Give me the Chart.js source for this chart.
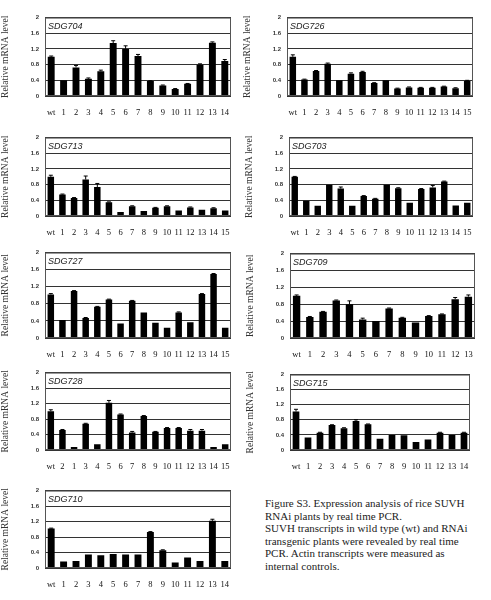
<!DOCTYPE html>
<html><head><meta charset="utf-8">
<script src="https://cdn.jsdelivr.net/npm/chart.js@4"></script>
<style>
body{margin:0;background:#fff;width:491px;height:600px;position:relative;font-family:"Liberation Serif",serif}
#cap{position:absolute;left:265px;top:497px;font-size:11px;line-height:12.5px;color:#222;width:210px}
</style></head><body>
<div id="cap">Figure S3. Expression analysis of rice SUVH RNAi plants by real time PCR.<br>SUVH transcripts in wild type (wt) and RNAi transgenic plants were revealed by real time PCR. Actin transcripts were measured as internal controls.</div>
<script>
const lab14 = ['wt','1','2','3','4','5','6','7','8','9','10','11','12','13','14'];
const lab15 = ['wt','1','2','3','4','5','6','7','8','9','10','11','12','13','14','15'];
const lab13 = ['wt','1','2','3','4','5','6','7','8','9','10','11','12','13'];
const lab728 = ['wt','2','1','3','4','5','6','7','8','9','10','11','12','13','14','15'];
const yTicks = [0,0.4,0.8,1.2,1.6,2];

const v704 = [1.0,0.4,0.73,0.44,0.63,1.35,1.2,1.02,0.38,0.27,0.18,0.31,0.8,1.36,0.89];
const e704 = [0.02,0,0.05,0.02,0.03,0.06,0.08,0.04,0.01,0.01,0.01,0.01,0.02,0.02,0.04];
const v726 = [1.0,0.42,0.64,0.82,0.4,0.57,0.61,0.33,0.4,0.19,0.22,0.21,0.21,0.24,0.2,0.38];
const e726 = [0.05,0.01,0.01,0.02,0,0.02,0.02,0.01,0,0.01,0.01,0.01,0.01,0.01,0.01,0.02];
const v713 = [1.0,0.55,0.46,0.93,0.74,0.35,0.1,0.25,0.13,0.21,0.25,0.14,0.22,0.16,0.2,0.14];
const e713 = [0.04,0.01,0.01,0.09,0.09,0.01,0,0.01,0,0.01,0.01,0,0.01,0,0.01,0];
const v703 = [1.0,0.39,0.26,0.8,0.7,0.26,0.51,0.44,0.8,0.71,0.34,0.69,0.73,0.88,0.27,0.34];
const e703 = [0.01,0,0,0,0.04,0,0.01,0.01,0,0.01,0,0.01,0.05,0.01,0,0];
const v727 = [1.02,0.42,1.1,0.47,0.73,0.9,0.34,0.87,0.6,0.36,0.24,0.6,0.37,1.03,1.5,0.24];
const e727 = [0.02,0,0.01,0.01,0.01,0.01,0,0.01,0,0,0,0.01,0,0.01,0.01,0];
const v709 = [1.0,0.5,0.62,0.89,0.8,0.44,0.4,0.7,0.48,0.37,0.52,0.56,0.92,0.98];
const e709 = [0.02,0.01,0.01,0.01,0.08,0.03,0,0.01,0.01,0,0.01,0.01,0.04,0.04];
const v728 = [1.0,0.52,0.08,0.68,0.15,1.22,0.92,0.45,0.88,0.47,0.57,0.57,0.5,0.5,0.08,0.15];
const e728 = [0.04,0.01,0,0.01,0,0.06,0.01,0.03,0.01,0.01,0.01,0.01,0.03,0.03,0,0];
const v715 = [1.02,0.33,0.46,0.66,0.58,0.77,0.68,0.3,0.4,0.39,0.21,0.28,0.46,0.4,0.46];
const e715 = [0.06,0,0.01,0.01,0.01,0.03,0.01,0,0,0,0,0,0.01,0,0.01];
const v710 = [1.02,0.17,0.18,0.35,0.33,0.36,0.35,0.35,0.93,0.46,0.14,0.27,0.18,1.22,0.18];
const e710 = [0.01,0,0,0,0,0,0,0,0.01,0.01,0,0,0,0.04,0];

const panels = [
 {name:'SDG704',labels:lab14,v:v704,e:e704,x:45,y:14,w:186,h:82},
 {name:'SDG726',labels:lab15,v:v726,e:e726,x:287,y:14,w:186,h:82},
 {name:'SDG713',labels:lab15,v:v713,e:e713,x:45,y:134,w:186,h:82},
 {name:'SDG703',labels:lab15,v:v703,e:e703,x:289,y:134,w:184,h:82},
 {name:'SDG727',labels:lab15,v:v727,e:e727,x:45,y:249,w:186,h:89},
 {name:'SDG709',labels:lab13,v:v709,e:e709,x:290,y:250,w:185,h:88},
 {name:'SDG728',labels:lab728,v:v728,e:e728,x:45,y:369,w:186,h:81},
 {name:'SDG715',labels:lab14,v:v715,e:e715,x:290,y:371,w:180,h:79},
 {name:'SDG710',labels:lab14,v:v710,e:e710,x:45,y:487,w:186,h:81},
];
const LM=45, TM=6, RM=4, BM=22;
const errPlugin = {id:'err', afterDatasetsDraw(ch){
  const ctx=ch.ctx, meta=ch.getDatasetMeta(0), ys=ch.scales.y, err=ch.options.plugins.err.e, vals=ch.data.datasets[0].data;
  ctx.save(); ctx.strokeStyle='#000'; ctx.lineWidth=1;
  meta.data.forEach((b,i)=>{ if(!err[i]) return; const yt=ys.getPixelForValue(vals[i]+err[i]);
    ctx.beginPath(); ctx.moveTo(b.x,b.y); ctx.lineTo(b.x,yt); ctx.moveTo(b.x-2,yt); ctx.lineTo(b.x+2,yt); ctx.stroke();});
  const a=ch.chartArea; ctx.strokeStyle='#555'; ctx.strokeRect(a.left+0.5,a.top+0.5,a.width-1,a.height-1);
  ctx.fillStyle='#222'; ctx.font='italic 9px "Liberation Sans", sans-serif'; ctx.textBaseline='top';
  ctx.fillText(ch.options.plugins.err.name,a.left+3,a.top+4);
  ctx.restore();
}};
panels.forEach(p=>{
  const cv=document.createElement('canvas');
  const W=p.w+LM+RM, H=p.h+TM+BM;
  cv.style.width=W+'px'; cv.style.height=H+'px'; cv.width=W; cv.height=H;
  const d=document.createElement('div'); d.style.cssText=`position:absolute;left:${p.x-LM}px;top:${p.y-TM}px;width:${W}px;height:${H}px`;
  d.appendChild(cv); document.body.appendChild(d);
  new Chart(cv,{type:'bar',plugins:[errPlugin],
    data:{labels:p.labels,datasets:[{data:p.v,backgroundColor:'#000',barPercentage:0.62,categoryPercentage:0.9}]},
    options:{responsive:false,animation:false,events:[],layout:{padding:{top:TM,right:RM}},
      plugins:{legend:{display:false},tooltip:{enabled:false},err:{e:p.e,name:p.name}},
      scales:{
        y:{min:0,max:2,afterFit(s){s.width=LM;},afterBuildTicks(s){s.ticks=yTicks.map(v=>({value:v}));},
           border:{display:false},grid:{color:'#333',lineWidth:1,drawTicks:false},
           ticks:{padding:6,font:{size:6,family:'"Liberation Sans", sans-serif',weight:'bold'},color:'#333',callback:v=>String(v)},
           title:{display:true,text:'Relative mRNA level',font:{size:9.5,family:'"Liberation Serif", serif'},color:'#333',padding:{top:0,bottom:4}}},
        x:{afterFit(s){s.height=BM;},offset:true,border:{display:false},grid:{display:false},
           ticks:{autoSkip:false,maxRotation:0,padding:4,font:{size:8.5,family:'"Liberation Serif", serif'},color:'#111'}}
      }}});
});
</script></body></html>
